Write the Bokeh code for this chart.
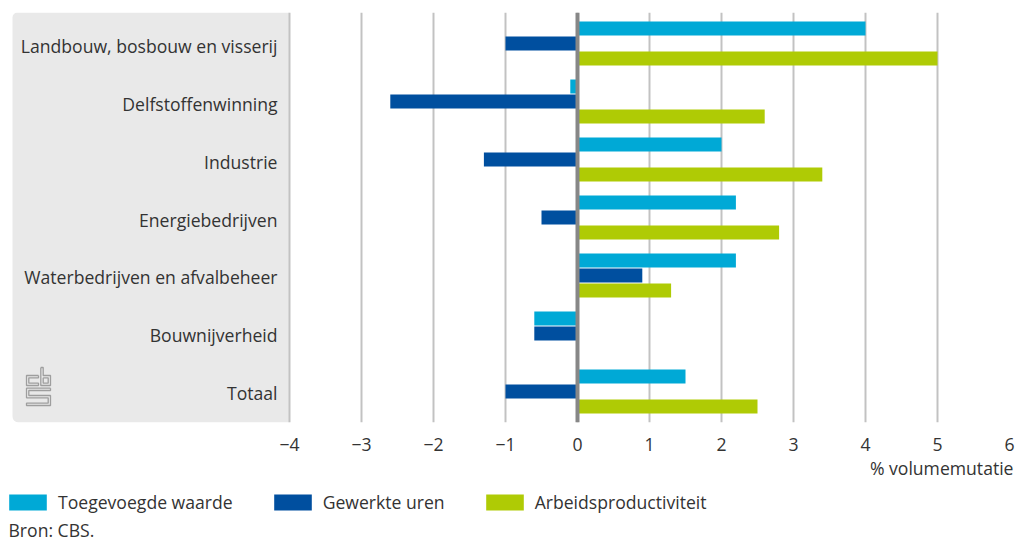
from bokeh.plotting import figure
from bokeh.layouts import column
from bokeh.models import (ColumnDataSource, FactorRange, Range1d, FixedTicker, Span,
                          BoxAnnotation, Legend, LegendItem, Title, Label)
from bokeh.transform import dodge
from bokeh.core.properties import value
from bokeh.embed import file_html
from bokeh.resources import INLINE

# ---------------- data ----------------
categories = ["Landbouw, bosbouw en visserij", "Delfstoffenwinning", "Industrie",
              "Energiebedrijven", "Waterbedrijven en afvalbeheer", "Bouwnijverheid", "Totaal"]
toegevoegde_waarde = [4.0, -0.1, 2.0, 2.2, 2.2, -0.6, 1.5]
gewerkte_uren = [-1.0, -2.6, -1.3, -0.5, 0.9, -0.6, -1.0]
arbeidsproductiviteit = [5.0, 2.6, 3.4, 2.8, 1.3, 0.0, 2.5]
series_labels = ["Toegevoegde waarde", "Gewerkte uren", "Arbeidsproductiviteit"]
x_ticks = [-4, -3, -2, -1, 0, 1, 2, 3, 4, 5, 6]
x_axis_label = "% volumemutatie"
source_note = "Bron: CBS."

# ---------------- style ----------------
colors = ["#00a9d6", "#004f9f", "#afcb05"]
FONT = "Open Sans"
FS = "17.6px"
TEXT = "#333333"
W = 1023
H1, H2 = 488, 53
PX = 72.0                      # pixels per unit on x
X_MIN, X_MAX = -4.0, 6.0
LEFT_PANEL = 289               # px left of the -4 line inside the frame
x_start = X_MIN - LEFT_PANEL / PX
FRAME_TOP = 12
N = len(categories)
PAD = 0.01                     # FactorRange padding (fraction)
Y_TOP = N + PAD * N / 2        # synthetic coordinate at the frame top
PY = 410 / (N + PAD * N)       # pixels per category

src = ColumnDataSource(dict(cat=categories, t=toegevoegde_waarde,
                            g=gewerkte_uren, a=arbeidsproductiviteit))

p = figure(width=W, height=H1, output_backend="svg", toolbar_location=None,
           x_range=Range1d(x_start, X_MAX),
           y_range=FactorRange(factors=categories[::-1], range_padding=PAD),
           y_axis_location=None,
           min_border_left=0, min_border_right=14, min_border_top=FRAME_TOP,
           min_border_bottom=H1 - 422)
p.outline_line_color = None
p.background_fill_color = "white"
p.border_fill_color = "white"

# grey label panel
panel = BoxAnnotation(left=x_start + 12 / PX, right=X_MIN, fill_color="#e9e9e9", fill_alpha=1,
                      line_color=None, level="image", border_radius=(5, 0, 0, 6))
p.add_layout(panel)

# small CBS logo (outline drawing, local pixel grid -> plot coordinates)
logo_px = [
    [(12, 8), (0, 8), (0, 18), (12, 18), (12, 15.7), (2.3, 15.7), (2.3, 10.3), (12, 10.3), (12, 8)],
    [(14.3, 0), (16.7, 0), (16.7, 8), (24, 8), (24, 18), (14.3, 18), (14.3, 0)],
    [(16.7, 10.3), (21.7, 10.3), (21.7, 15.7), (16.7, 15.7), (16.7, 10.3)],
    [(24, 20.7), (0, 20.7), (0, 30.3), (21.7, 30.3), (21.7, 35.7), (0, 35.7), (0, 38),
     (24, 38), (24, 28), (2.3, 28), (2.3, 23), (24, 23), (24, 20.7)],
]
LOGO_X, LOGO_Y = 26, 367
p.multi_line(xs=[[x_start + (LOGO_X + px) / PX for px, _ in path] for path in logo_px],
             ys=[[Y_TOP - (LOGO_Y + py - FRAME_TOP) / PY for _, py in path] for path in logo_px],
             line_color="#9e9e9e", line_width=1.3)

# grid
p.ygrid.visible = False
p.xgrid.ticker = FixedTicker(ticks=x_ticks)
p.xgrid.grid_line_color = "#c2c2c2"
p.xgrid.grid_line_width = 2

# axis
ax = p.xaxis[0]
ax.ticker = FixedTicker(ticks=x_ticks)
ax.major_label_overrides = {t: str(t).replace("-", "\u2212") for t in x_ticks}
ax.axis_line_color = None
ax.major_tick_line_color = None
ax.minor_tick_line_color = None
ax.major_tick_out = 0
ax.major_tick_in = 0
ax.major_label_standoff = 15
ax.major_label_text_font = FONT
ax.major_label_text_font_size = FS
ax.major_label_text_color = TEXT

# bars
H_BAR = 14 / 58
OFF = 15 / 58
r_t = p.hbar(y=dodge("cat", OFF, range=p.y_range), left=0, right="t", height=H_BAR,
             source=src, fill_color=colors[0], line_color=None)
r_g = p.hbar(y=dodge("cat", 0, range=p.y_range), left=0, right="g", height=H_BAR,
             source=src, fill_color=colors[1], line_color=None)
r_a = p.hbar(y=dodge("cat", -OFF, range=p.y_range), left=0, right="a", height=H_BAR,
             source=src, fill_color=colors[2], line_color=None)

# zero line
p.add_layout(Span(location=0, dimension="height", line_color="#878787", line_width=4))

# category labels
p.text(x=X_MIN - 12 / PX, y="cat", text="cat", source=src, text_align="right",
       text_baseline="middle", y_offset=2, text_font=value(FONT), text_font_size=FS,
       text_color=TEXT)

# axis title (below, right aligned)
p.add_layout(Title(text=x_axis_label, align="right", offset=-4, standoff=0,
                   text_font=FONT, text_font_size=FS, text_font_style="normal",
                   text_color=TEXT), "below")

# ---------------- legend + source strip ----------------
p2 = figure(width=W, height=H2, output_backend="svg", toolbar_location=None,
            x_range=Range1d(100, 101), y_range=FactorRange(factors=categories[::-1]),
            x_axis_location=None, y_axis_location=None,
            min_border_left=0, min_border_right=0, min_border_top=0, min_border_bottom=0)
p2.outline_line_color = None
p2.grid.visible = False
p2.border_fill_color = "white"
p2.background_fill_color = "white"

# legend keys: the same series, with zero thickness and outside this strip's view
keys = [p2.hbar(y="cat", left=0, right=col, height=0, source=src,
                fill_color=c, line_color=None)
        for col, c in zip(["t", "g", "a"], colors)]
legend = Legend(items=[LegendItem(label=lab, renderers=[k]) for lab, k in zip(series_labels, keys)],
                location=(4, 27), orientation="horizontal",
                glyph_width=47, glyph_height=20, label_standoff=7, spacing=36,
                padding=0, margin=0, border_line_color=None, background_fill_alpha=0,
                label_text_font=FONT, label_text_font_size=FS, label_text_color=TEXT)
p2.add_layout(legend)

p2.add_layout(Label(x=8, y=12, x_units="screen", y_units="screen", text=source_note,
                    text_align="left", text_baseline="alphabetic",
                    text_font=FONT, text_font_size=FS, text_color=TEXT))

layout = column(p, p2, spacing=0)
open("out.html", "w").write(file_html(layout, INLINE))
